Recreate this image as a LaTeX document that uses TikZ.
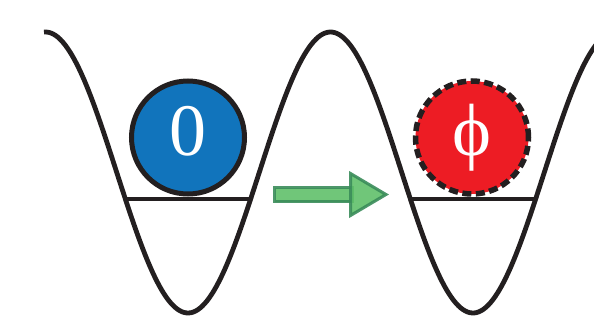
\documentclass[tikz,border=0pt]{standalone}
\usepackage{fontspec}
\newfontfamily\labelfont{Liberation Serif}
\definecolor{curvecol}{HTML}{231F20}
\definecolor{ballblue}{HTML}{1174BC}
\definecolor{ballred}{HTML}{ED1C24}
\definecolor{arrowfill}{HTML}{60C06A}
\definecolor{arrowline}{HTML}{3A8C5A}
\tikzset{
  potential/.style={draw=curvecol, line width=4.8pt},
  ball/.style={circle, minimum size=113pt, inner sep=0pt, draw=curvecol},
  balltext/.style={text=white, inner sep=0pt, font=\labelfont\fontsize{74}{74}\selectfont},
  greenarrow/.style={fill=arrowfill, draw=arrowline, line width=3pt, line join=miter, fill opacity=0.9, draw opacity=0.9}
}
\begin{document}
\begin{tikzpicture}[x=1pt, y=-1pt]
\useasboundingbox (0,0) rectangle (594,324);
\begin{scope}
\clip (0,0) rectangle (594,324);
\draw[potential, domain=44:600, samples=240, smooth] plot (\x, {172.5+140.5*cos((\x-188)*1.2631579)});
\end{scope}
% levels
\coordinate (l1a) at (127,199);
\coordinate (l1b) at (250,199);
\coordinate (l2a) at (411,199);
\coordinate (l2b) at (534,199);
\draw[potential] (l1a) -- (l1b);
\draw[potential] (l2a) -- (l2b);
% balls
\node[ball, fill=ballblue, line width=5pt] (ball0) at (188,137.5) {};
\node[balltext] (zero) at (188,131.5) {0};
\node[ball, fill=ballred, line width=5.5pt, dash pattern=on 9pt off 4.5pt] (ballphi) at (472,137.5) {};
\node[balltext] (phi) at (471.5,138) {ϕ};
% arrow
\coordinate (s1) at (274.5,187.5);
\coordinate (s2) at (352,201.5);
\coordinate (h1) at (350.5,173.5);
\coordinate (h2) at (350.5,215.5);
\coordinate (tip) at (386,194.5);
\draw[greenarrow] (s1) rectangle (s2);
\draw[greenarrow] (h1) -- (tip) -- (h2) -- cycle;
\end{tikzpicture}
\end{document}
